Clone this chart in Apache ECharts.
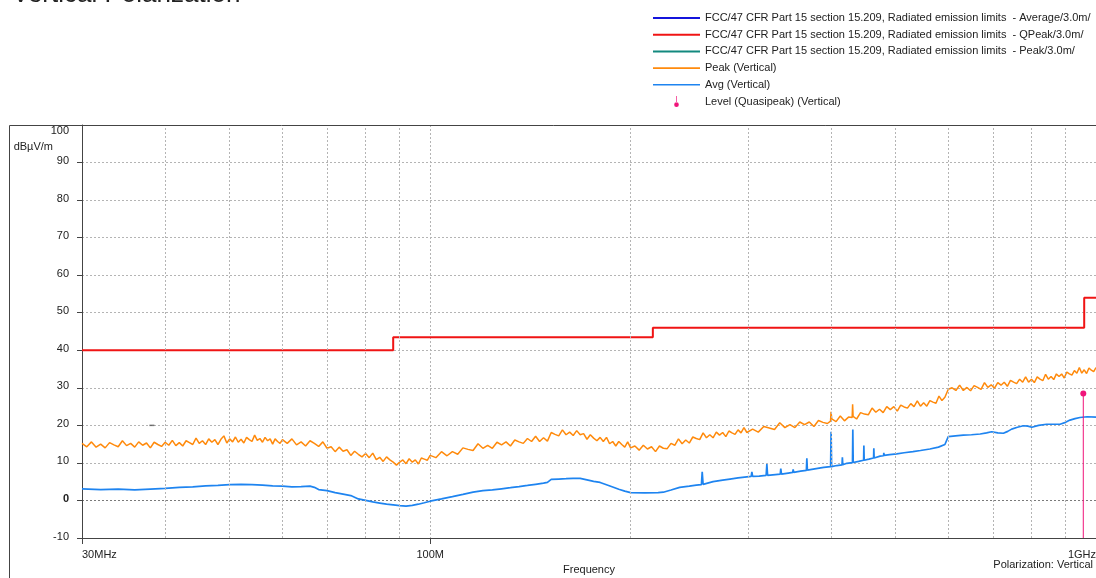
<!DOCTYPE html>
<html>
<head>
<meta charset="utf-8">
<script src="https://cdn.jsdelivr.net/npm/echarts@6/dist/echarts.min.js"></script>
<style>
html, body { margin: 0; padding: 0; background: #fff; }
#chart { width: 1096px; height: 578px; }
</style>
</head>
<body>
<div id="chart"></div>
<script>
// [MHz, dBuV/m]
var peakTrace = [
    [30, 15.2], [30.5, 14.3], [31, 15.6], [31.5, 14.2], [32, 15.0], [32.5, 14.0], [33, 15.4], [33.5, 14.8],
    [34, 14.3], [34.5, 15.9], [35, 14.6], [35.5, 15.2], [36, 14.2], [36.5, 15.6], [37, 14.7], [37.5, 15.3],
    [38, 14.0], [38.5, 15.5], [39, 14.9], [39.5, 14.4], [40, 15.5], [40.5, 14.7], [41, 16.0], [41.5, 14.6],
    [42, 15.4], [42.5, 14.5], [43, 15.9], [43.5, 15.4], [44, 14.9], [44.5, 16.6], [45, 15.2], [45.5, 15.9],
    [46, 14.9], [46.5, 16.4], [47, 15.5], [47.5, 16.2], [48, 14.9], [48.5, 16.3], [49, 17.2], [49.5, 15.3],
    [50, 16.4], [50.5, 15.6], [51, 16.9], [51.5, 15.5], [52, 16.3], [52.5, 15.3], [53, 16.8], [53.5, 16.2],
    [54, 15.7], [54.5, 17.4], [55, 16.0], [55.5, 16.5], [56, 15.5], [56.5, 16.8], [57, 15.9], [57.5, 16.4],
    [58, 15.0], [58.5, 16.4], [59, 15.7], [59.5, 15.2], [60, 16.2],
    [61, 15.2], [62, 16.4], [63, 14.8], [64, 15.6], [65, 14.5], [66, 15.9], [67, 15.2], [68, 14.4],
    [69, 15.6], [70, 13.9], [71, 14.3], [72, 13.0], [73, 14.2], [74, 13.1], [75, 13.5], [76, 12.0],
    [77, 13.1], [78, 12.3], [79, 11.6], [80, 12.5], [81, 11.4], [82, 12.6], [83, 10.9], [84, 11.5],
    [85, 10.4], [86, 11.6], [87, 10.8], [88, 10.2], [89, 9.4], [90, 10.2], [91, 10.8], [92, 9.8],
    [93, 11.1], [94, 10.2], [95, 10.8], [96, 9.7], [97, 11.3], [98, 11.0], [99, 10.7], [100, 12.0],
    [102, 11.4], [104, 13.0], [106, 11.9], [108, 13.0], [110, 12.3], [112, 14.0], [114, 13.6], [116, 13.3],
    [118, 15.1], [120, 13.9], [122, 14.7], [124, 13.9], [126, 15.5], [128, 14.8], [130, 15.6], [132, 14.5],
    [134, 16.1], [136, 15.6], [138, 15.2], [140, 16.5], [142, 15.7], [144, 17.1], [146, 15.7], [148, 16.7],
    [150, 15.8], [152, 18.1], [154, 17.6], [156, 17.2], [158, 18.8], [160, 17.5], [162, 18.2], [164, 17.3],
    [166, 18.6], [168, 17.5], [170, 17.8], [172, 16.3], [174, 17.5], [176, 16.6], [178, 15.9], [180, 16.8],
    [182, 15.7], [184, 16.8], [186, 15.1], [188, 15.7], [190, 14.5], [192, 15.7], [194, 14.9], [196, 14.2],
    [198, 15.6], [200, 14.0],
    [203, 14.5], [206, 13.4], [209, 14.7], [212, 13.7], [215, 14.3], [218, 13.0], [221, 14.5], [224, 13.9],
    [227, 13.8], [230, 15.2], [233, 14.7], [236, 16.4], [239, 15.1], [242, 16.1], [245, 15.3], [248, 16.9],
    [251, 16.5], [254, 16.2], [257, 18.0], [260, 16.7], [263, 17.5], [266, 16.7], [269, 18.2], [272, 17.4],
    [275, 18.1], [278, 17.0], [281, 18.5], [284, 18.0], [287, 17.6], [290, 18.8], [293, 18.0], [296, 19.4],
    [299, 18.1],
    [305, 19.0], [311, 18.2], [317, 19.7], [323, 19.3], [329, 18.9], [335, 20.7], [341, 19.4], [347, 20.2],
    [353, 19.4], [359, 20.9], [365, 20.2], [371, 20.9], [377, 19.7], [383, 21.3], [389, 20.8], [395, 20.5],
    [399.3, 21.1], [400, 23.6], [401, 21.7], [407, 21.0], [413, 22.5], [419, 21.2], [425, 22.2],
    [430.3, 22.1], [431, 25.6], [431.7, 22.4], [437, 21.7], [443, 23.4], [449, 23.0], [455, 22.8],
    [461, 24.6], [467, 23.5], [473, 24.3], [479, 23.4], [485, 25.0], [491, 24.2], [497, 25.0], [503, 23.8],
    [509, 25.4], [515, 24.9], [521, 24.6], [527, 25.8], [533, 25.0], [539, 26.5], [545, 25.1], [551, 26.0],
    [557, 25.1], [563, 26.6], [569, 26.2], [575, 25.9], [581, 27.8], [587, 26.6], [593, 27.5], [597, 27.2],
    [600, 29.6],
    [608, 30.0], [616, 29.3], [624, 30.7], [632, 29.3], [640, 30.1], [648, 29.2], [656, 30.6], [664, 30.1],
    [672, 29.6], [680, 31.4], [688, 30.1], [696, 30.8], [704, 29.9], [712, 31.4], [720, 30.7], [728, 31.5],
    [736, 30.4], [744, 32.0], [752, 31.5], [760, 31.1], [768, 32.3], [776, 31.5], [784, 32.9], [792, 31.5],
    [800, 32.3], [808, 31.4], [816, 32.9], [824, 32.3], [832, 31.9], [840, 33.6], [848, 32.3], [856, 33.0],
    [864, 32.2], [872, 33.7], [880, 33.0], [888, 33.7], [896, 32.6], [904, 34.2], [912, 33.7], [920, 33.4],
    [928, 34.6], [936, 33.9], [944, 35.4], [952, 33.9], [960, 34.8], [968, 33.8], [976, 35.3], [984, 34.7],
    [992, 34.3], [1000, 35.4]
];

var avgTrace = [
    [30, 3.1], [32, 2.9], [34, 3.0], [36, 2.8], [38, 3.0], [40, 3.2], [42, 3.5], [44, 3.6],
    [46, 3.9], [48, 4.0], [50, 4.2], [52, 4.3], [54, 4.2], [56, 4.1], [58, 3.9], [60, 3.8],
    [62, 3.6], [64, 3.7], [66, 3.8], [67, 3.5], [68, 2.9], [70, 2.6], [72, 2.1], [74, 1.7],
    [76, 1.3], [78, 0.4], [80, 0.0], [82, -0.4], [84, -0.7], [86, -1.0], [88, -1.2], [90, -1.4],
    [92, -1.5], [94, -1.3], [96, -1.0], [98, -0.6], [100, -0.2], [104, 0.4], [108, 1.0],
    [112, 1.6], [116, 2.2], [120, 2.6], [124, 2.8], [128, 3.1], [132, 3.4], [136, 3.7],
    [140, 4.0], [144, 4.3], [148, 4.6], [150, 4.8], [152, 5.6], [156, 5.7], [160, 5.8],
    [164, 5.9], [168, 5.9], [172, 5.5], [176, 5.1], [180, 4.8], [184, 4.2], [188, 3.6],
    [192, 3.0], [196, 2.5], [200, 2.1], [210, 2.0], [220, 2.1], [224, 2.2], [230, 2.8],
    [237, 3.5], [245, 3.8], [251, 4.1], [255.5, 4.2], [256.2, 7.6], [257, 4.3], [266, 5.0],
    [275, 5.4], [282, 5.7], [290, 6.0], [299, 6.3], [303.5, 6.4], [304.2, 7.6], [305, 6.4],
    [312, 6.5], [319.6, 6.7], [320.4, 9.7], [321.2, 6.7], [330, 6.9], [335.6, 7.0], [336.2, 8.5],
    [337, 7.0], [345, 7.3], [350.4, 7.5], [350.9, 8.3], [351.6, 7.5], [360, 7.8], [367.3, 8.0],
    [367.9, 11.2], [368.6, 8.1], [380, 8.5], [390, 8.8], [399.4, 9.0], [400.1, 18.3], [400.8, 9.0],
    [408, 9.3], [415.5, 9.5], [416, 11.5], [416.6, 9.5], [422.4, 9.9], [430.8, 10.1],
    [431.3, 18.9], [431.9, 10.1], [440, 10.4], [447.7, 10.7], [448.1, 14.6], [448.6, 10.7],
    [456, 11.0], [463.4, 11.3], [463.8, 13.9], [464.3, 11.3], [474, 11.8], [479.7, 11.9],
    [480.1, 12.7], [480.6, 12.0], [490, 12.2], [502, 12.4], [515, 12.7], [531, 13.0],
    [545, 13.3], [563, 13.7], [580, 14.2], [593, 14.9], [600, 17.0], [615, 17.2], [632, 17.4],
    [650, 17.5], [670, 17.7], [685, 18.0], [697, 18.3], [712, 18.0], [726, 17.9], [737, 18.4],
    [747, 19.0], [762, 19.5], [778, 19.9], [790, 19.8], [801, 19.5], [820, 20.0], [843, 20.3],
    [860, 20.3], [883, 20.3], [900, 20.8], [914, 21.4], [930, 21.8], [946, 22.1], [970, 22.3],
    [1000, 22.2]
];

// FCC 15.209 QP limit at 3 m
var qpLimit = [[30, 40], [88, 40], [88, 43.5], [216, 43.5], [216, 46], [960, 46], [960, 54], [1000, 54]];

var qpFreq = 957;
var qpLevel = 28.5;

var strayMark = [[38.2, 20]];

var gridFreqs = [40, 50, 60, 70, 80, 90, 200, 300, 400, 500, 600, 700, 800, 900];

var legendNames = [
    'FCC/47 CFR Part 15 section 15.209, Radiated emission limits  - Average/3.0m/',
    'FCC/47 CFR Part 15 section 15.209, Radiated emission limits  - QPeak/3.0m/',
    'FCC/47 CFR Part 15 section 15.209, Radiated emission limits  - Peak/3.0m/',
    'Peak (Vertical)',
    'Avg (Vertical)',
    'Level (Quasipeak) (Vertical)'
];

var FONT = '"Liberation Sans", Arial, sans-serif';
var thickIcon = 'path://M0,0H47V2H0Z';
var thinIcon = 'path://M0,0H47V1.6H0Z';
var pinIcon = 'path://M4.5,0H5.5V10H4.5Z M1.5,13A3.5,3.5 0 1,0 8.5,13A3.5,3.5 0 1,0 1.5,13Z';

var chart = echarts.init(document.getElementById('chart'));

var option = {
    animation: false,
    textStyle: { fontFamily: FONT },
    title: [{
        text: 'Vertical Polarization',
        left: 12,
        top: -18,
        padding: 0,
        textStyle: { fontSize: 26, fontWeight: 'normal', color: '#222', fontFamily: FONT }
    }, {
        text: 'Polarization: Vertical',
        right: 3,
        top: 559,
        padding: 0,
        textStyle: { fontSize: 11, fontWeight: 'normal', color: '#222', fontFamily: FONT }
    }],
    legend: {
        orient: 'vertical',
        left: 653,
        top: 12.5,
        padding: 0,
        itemWidth: 47,
        itemHeight: 11,
        itemGap: 5.7,
        selectedMode: false,
        symbolKeepAspect: true,
        itemStyle: { borderWidth: 0 },
        textStyle: { fontSize: 11, color: '#222', fontFamily: FONT },
        data: [
            { name: legendNames[0], icon: thickIcon },
            { name: legendNames[1], icon: thickIcon },
            { name: legendNames[2], icon: thickIcon },
            { name: legendNames[3], icon: thinIcon },
            { name: legendNames[4], icon: thinIcon },
            { name: legendNames[5], icon: pinIcon }
        ]
    },
    graphic: [{
        type: 'rect',
        silent: true,
        shape: { x: 9.5, y: 125.5, width: 1200, height: 600 },
        style: { fill: 'none', stroke: '#444', lineWidth: 1 },
        z: 100
    }],
    grid: { left: 82, right: 0, top: 125, bottom: 40, outerBoundsMode: 'none' },
    xAxis: {
        type: 'log',
        logBase: 10,
        min: 30,
        max: 1000,
        name: 'Frequency',
        nameLocation: 'middle',
        nameGap: 17,
        nameTextStyle: { fontSize: 11, color: '#222', fontFamily: FONT },
        axisLine: { onZero: false, lineStyle: { color: '#444', width: 1 } },
        axisTick: { show: true, length: 6, lineStyle: { color: '#444' } },
        axisLabel: {
            fontSize: 11,
            color: '#222',
            margin: 11,
            alignMinLabel: 'left',
            alignMaxLabel: 'right',
            formatter: function (v) {
                if (Math.abs(v - 30) < 0.01) return '30MHz';
                if (Math.abs(v - 100) < 0.01) return '100M';
                if (Math.abs(v - 1000) < 0.01) return '1GHz';
                return '';
            }
        },
        splitLine: { show: true, showMinLine: false, lineStyle: { color: '#b4b4b4', type: [2, 2] } },
        minorTick: { show: false },
        minorSplitLine: { show: false }
    },
    yAxis: {
        type: 'value',
        min: -10,
        max: 100,
        interval: 10,
        name: 'dBµV/m',
        nameLocation: 'end',
        nameGap: -27,
        nameTextStyle: { fontSize: 11, color: '#222', align: 'right', padding: [0, 29, 0, 0], fontFamily: FONT },
        axisLine: { show: true, lineStyle: { color: '#444', width: 1 } },
        axisTick: { show: true, length: 5, lineStyle: { color: '#444' } },
        axisLabel: {
            fontSize: 11,
            color: '#222',
            margin: 13,
            verticalAlign: 'middle',
            padding: [0, 0, 3, 0],
            formatter: function (v) {
                if (v === 0) return '{b|0}';
                if (v === 100) return '{t|100}';
                return String(v);
            },
            rich: {
                b: { fontWeight: 'bold', fontSize: 11, color: '#222' },
                t: { fontSize: 11, color: '#222', padding: [14, 0, 0, 0] }
            }
        },
        splitLine: {
            show: true,
            showMinLine: false,
            showMaxLine: false,
            lineStyle: {
                color: ['#7a7a7a', '#b4b4b4', '#b4b4b4', '#b4b4b4', '#b4b4b4', '#b4b4b4',
                    '#b4b4b4', '#b4b4b4', '#b4b4b4', '#b4b4b4', '#b4b4b4'],
                type: [2, 2]
            }
        }
    },
    series: [
        {
            name: 'grid',
            type: 'line',
            data: [],
            silent: true,
            markLine: {
                silent: true,
                symbol: 'none',
                label: { show: false },
                lineStyle: { color: '#b4b4b4', type: [2, 2], width: 1 },
                data: gridFreqs.map(function (f) { return { xAxis: f }; })
            }
        },
        {
            name: legendNames[0],
            type: 'line',
            color: '#1414dc',
            showSymbol: false,
            data: []
        },
        {
            name: legendNames[2],
            type: 'line',
            color: '#13897f',
            showSymbol: false,
            data: []
        },
        {
            name: legendNames[4],
            type: 'line',
            color: '#1e84f0',
            showSymbol: false,
            lineStyle: { width: 1.7 },
            data: avgTrace
        },
        {
            name: legendNames[3],
            type: 'line',
            color: '#ff8a0c',
            showSymbol: false,
            lineStyle: { width: 1.5 },
            data: peakTrace
        },
        {
            name: legendNames[1],
            type: 'line',
            color: '#f01414',
            showSymbol: false,
            lineStyle: { width: 2 },
            data: qpLimit
        },
        {
            name: 'stray',
            type: 'scatter',
            symbol: 'rect',
            symbolSize: [5, 1.5],
            itemStyle: { color: '#555' },
            data: strayMark
        },
        {
            name: legendNames[5],
            type: 'line',
            color: '#f0147a',
            symbol: 'circle',
            symbolSize: 6,
            lineStyle: { width: 1 },
            data: [
                { value: [qpFreq, -10], symbol: 'none' },
                { value: [qpFreq, qpLevel] }
            ]
        }
    ]
};

chart.setOption(option);
</script>
</body>
</html>
